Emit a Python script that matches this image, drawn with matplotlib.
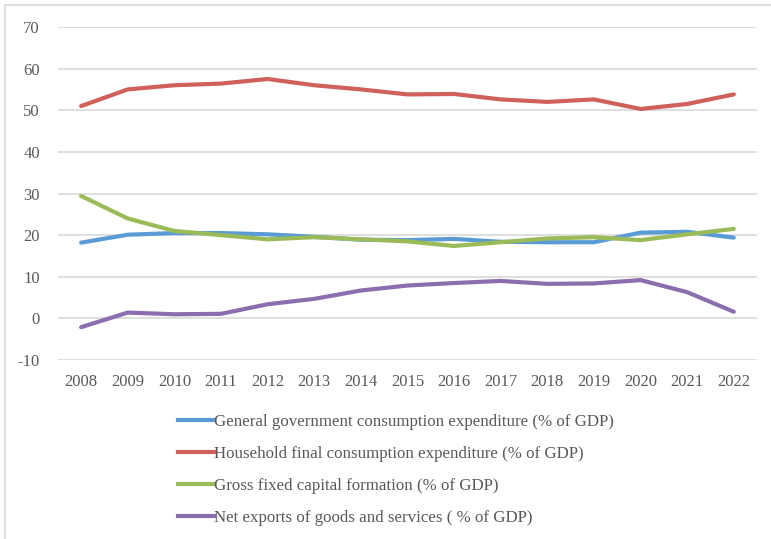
import matplotlib.pyplot as plt
from matplotlib.lines import Line2D

years = list(range(2008, 2023))
government = [18.2, 20.1, 20.5, 20.5, 20.2, 19.6, 18.9, 18.8, 19.1, 18.4, 18.3, 18.3, 20.6, 20.8, 19.4]
household = [51.0, 55.0, 56.0, 56.4, 57.5, 56.0, 55.0, 53.8, 53.9, 52.6, 52.0, 52.6, 50.3, 51.5, 53.8]
capital = [29.4, 24.0, 21.0, 20.0, 19.0, 19.5, 19.0, 18.5, 17.4, 18.3, 19.2, 19.5, 18.8, 20.2, 21.5]
net_exports = [-2.1, 1.4, 1.0, 1.1, 3.4, 4.7, 6.7, 7.9, 8.5, 9.0, 8.3, 8.4, 9.2, 6.3, 1.6]

labels = [
    'General government consumption expenditure (% of GDP)',
    'Household final consumption expenditure (% of GDP)',
    'Gross fixed capital formation (% of GDP)',
    'Net exports of goods and services ( % of GDP)',
]
colors = ['#5b9bd5', '#d0605a', '#9bbb59', '#8b6eae']

plt.rcParams['font.family'] = ['Liberation Serif', 'DejaVu Serif']
plt.rcParams['axes.unicode_minus'] = False
text_color = '#595959'

fig = plt.figure(figsize=(7.71, 5.39), dpi=100)
ax = fig.add_axes([0.075, 0.332, 0.907, 0.618])

for series, c, lab in zip([government, household, capital, net_exports], colors, labels):
    ax.plot(years, series, color=c, lw=3.0, solid_capstyle='round', label=lab, zorder=3)

ax.set_xlim(2007.5, 2022.5)
ax.set_ylim(-10, 70)
ax.set_yticks(range(-10, 71, 10))
ax.set_xticks(years)
ax.grid(axis='y', color='#d9d9d9', lw=1.2)
ax.set_axisbelow(True)
for s in ax.spines.values():
    s.set_visible(False)
ax.tick_params(length=0, labelsize=12, colors=text_color)
ax.tick_params(axis='y', pad=13)
ax.tick_params(axis='x', pad=10)

handles = [Line2D([], [], color=c, lw=3.0) for c in colors]
leg = fig.legend(handles, labels, loc='upper left', bbox_to_anchor=(0.222, 0.245),
                 frameon=False, fontsize=12.2, handlelength=2.1, handletextpad=0.05,
                 labelspacing=0.95, borderaxespad=0)
for t in leg.get_texts():
    t.set_color(text_color)

# thin frame on the left and top edges
fig.add_artist(Line2D([5 / 771, 5 / 771], [0, 1 - 5 / 539], color='#d9d9d9', lw=1.2))
fig.add_artist(Line2D([5 / 771, 1], [1 - 5 / 539, 1 - 5 / 539], color='#d9d9d9', lw=1.2))

fig.savefig('out.png', dpi=100, facecolor='white')
